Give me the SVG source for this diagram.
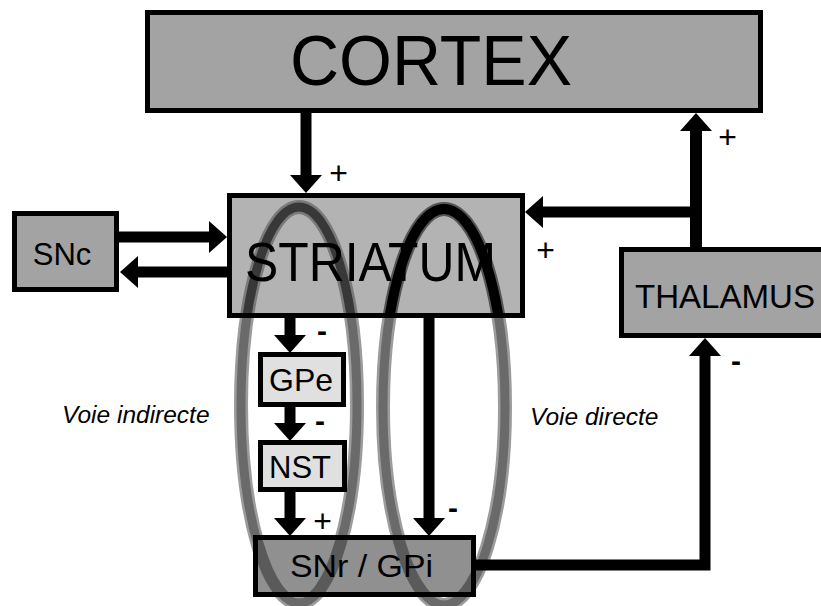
<svg xmlns="http://www.w3.org/2000/svg" xmlns:xlink="http://www.w3.org/1999/xlink" width="821" height="606" viewBox="0 0 821 606">
<style>
.box{stroke:#000;stroke-width:5}
.lbl{font-family:"Liberation Sans",Arial,sans-serif;fill:#000}
.it{font-family:"Liberation Sans",Arial,sans-serif;font-style:italic;fill:#000}
.sign{font-family:"Liberation Sans",Arial,sans-serif;font-style:italic;font-size:32px;text-anchor:middle;fill:#000}
.minus{font-family:"Liberation Sans",Arial,sans-serif;font-weight:bold;font-size:30px;text-anchor:middle;fill:#000}
.conn{fill:none;stroke:#000;stroke-width:11;stroke-linejoin:miter;marker-end:url(#ah)}
.halo{fill:none;stroke:#9c9c9c;stroke-width:14}
.core{fill:none;stroke:#6a6a6a;stroke-width:9}
</style>
<defs>
<marker id="ah" markerUnits="userSpaceOnUse" markerWidth="18" markerHeight="32" viewBox="0 0 18 32" refX="1" refY="16" orient="auto">
<path d="M0,0 L18,16 L0,32 z" fill="#000"/>
</marker>
<ellipse id="eL" cx="299" cy="405" rx="58" ry="198"/>
<ellipse id="eR" cx="444" cy="407" rx="61" ry="198"/>
<clipPath id="cStr"><rect x="232" y="198" width="288" height="115"/></clipPath>
<clipPath id="cSnr"><rect x="258" y="540" width="213" height="52"/></clipPath>
</defs>
<rect width="821" height="606" fill="#fff"/>

<g id="ellipses">
<use xlink:href="#eL" class="halo"/>
<use xlink:href="#eL" class="core"/>
<use xlink:href="#eR" class="halo"/>
<use xlink:href="#eR" class="core"/>
</g>

<g id="connectors">
<path class="conn" d="M306,113 V176"/>
<path class="conn" d="M119,237 H210"/>
<path class="conn" d="M227,272 H137"/>
<path class="conn" d="M699,212 H542"/>
<path class="conn" style="stroke-width:12" d="M696,248 V130"/>
<path class="conn" d="M476,565 H705 V355"/>
<path class="conn" d="M290,318 V336"/>
<path class="conn" d="M290,407 V424"/>
<path class="conn" d="M290,492 V519"/>
<path class="conn" d="M429,318 V519"/>
<text class="sign" x="338" y="184">+</text>
<text class="sign" x="545" y="261">+</text>
<text class="sign" x="727" y="148">+</text>
<text class="sign" x="322" y="532">+</text>
<text class="minus" x="322" y="341">-</text>
<text class="minus" x="320" y="431">-</text>
<text class="minus" x="453" y="518">-</text>
<text class="minus" x="736" y="371">-</text>
</g>

<g id="cortex">
<rect class="box" x="147.5" y="12.5" width="613" height="98" fill="#a3a3a3"/>
<text class="lbl" x="290" y="85" font-size="70" textLength="282" lengthAdjust="spacingAndGlyphs">CORTEX</text>
</g>

<g id="striatum">
<rect class="box" x="229.5" y="195.5" width="293" height="120" fill="#b3b3b3"/>
<g clip-path="url(#cStr)">
<use xlink:href="#eL" fill="none" stroke="#7a7a7a" stroke-width="14"/>
<use xlink:href="#eL" fill="none" stroke="#383838" stroke-width="9"/>
<use xlink:href="#eR" fill="none" stroke="#555" stroke-width="14"/>
<use xlink:href="#eR" fill="none" stroke="#000" stroke-width="10"/>
</g>
<text class="lbl" x="245" y="281" font-size="56" textLength="251" lengthAdjust="spacingAndGlyphs">STRIATUM</text>
</g>

<g id="snc">
<rect class="box" x="14.5" y="213.5" width="102" height="76" fill="#a3a3a3"/>
<text class="lbl" x="62" y="265" font-size="31" text-anchor="middle">SNc</text>
</g>

<g id="thalamus">
<rect class="box" x="621.5" y="249.5" width="210" height="86" fill="#a3a3a3"/>
<text class="lbl" x="635" y="308" font-size="33" textLength="180" lengthAdjust="spacingAndGlyphs">THALAMUS</text>
</g>

<g id="gpe">
<rect class="box" x="260.5" y="354.5" width="83" height="50" fill="#e0e0e0"/>
<text class="lbl" x="301" y="391" font-size="32" text-anchor="middle">GPe</text>
</g>

<g id="nst">
<rect class="box" x="260.5" y="442.5" width="84" height="47" fill="#e0e0e0"/>
<text class="lbl" x="300" y="478" font-size="31" text-anchor="middle">NST</text>
</g>

<g id="snr">
<rect class="box" x="255.5" y="537.5" width="218" height="57" fill="#909090"/>
<g clip-path="url(#cSnr)">
<use xlink:href="#eL" fill="none" stroke="#5a5a5a" stroke-width="12"/>
<use xlink:href="#eR" fill="none" stroke="#5a5a5a" stroke-width="12"/>
</g>
<text class="lbl" x="290" y="577" font-size="32" textLength="143" lengthAdjust="spacingAndGlyphs">SNr / GPi</text>
</g>

<g id="labels">
<text class="it" x="62" y="423" font-size="24.5">Voie indirecte</text>
<text class="it" x="530" y="425" font-size="24.5">Voie directe</text>
</g>
</svg>
